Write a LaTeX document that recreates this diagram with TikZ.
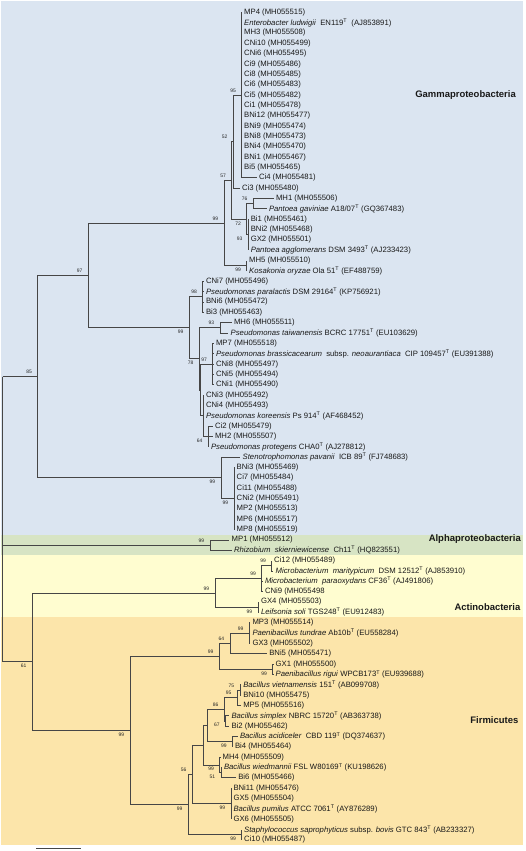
\documentclass[tikz,border=0pt]{standalone}
\usepackage{fontspec}
\setmainfont{Liberation Sans}
\usepackage{tikz}

\definecolor{gammabg}{RGB}{219,229,241}
\definecolor{alphabg}{RGB}{215,228,196}
\definecolor{actinobg}{RGB}{255,253,208}
\definecolor{firmibg}{RGB}{252,229,170}
\definecolor{treeline}{RGB}{70,70,70}

% y position of row r (leaves are rows 1..81)
\pgfmathdeclarefunction{rowy}{1}{\pgfmathparse{12.3+(#1-1)*10.345}}

\begin{document}
\begin{tikzpicture}[x=1bp,y=-1bp,
    branch/.style={draw=treeline,line width=0.75bp},
    leaf/.style={anchor=west,inner xsep=2.3bp,inner ysep=0pt,text=black!90,font=\fontsize{7.75}{9}\selectfont},
    bsup/.style={anchor=south east,inner sep=0.6bp,xshift=-5bp,yshift=2bp,text=black!85,font=\fontsize{5}{5}\selectfont},
    bsdn/.style={anchor=north east,inner sep=0.6bp,xshift=-5bp,yshift=-1.6bp,text=black!85,font=\fontsize{5}{5}\selectfont},
    grouplabel/.style={anchor=east,inner sep=0pt,text=black!90,font=\fontsize{9.5}{11}\selectfont\bfseries}]
    \useasboundingbox (0,0) rectangle (526,851);
    % coloured bands
    \fill[gammabg] (1,1) rectangle (523,534.5);
    \fill[alphabg] (1,534.5) rectangle (523,555);
    \fill[actinobg] (1,555) rectangle (523,617);
    \fill[firmibg] (1,617) rectangle (523,845);
    % internal nodes: name/x/row
    \foreach \nd/\nx/\nr in {root/2.7/36.21875, n85/37.7/36.21875, n97/88.3/26.4375,
        nE/224/21.375, n57/231.7/17.25, n52/233.3/13.5, n95/241.7/9, n72/246.7/21,
        n76/253.3/19.5, n93a/248.3/22.5, nKo/246.7/25.5, nP/189.3/31.5, n98/202.7/28.5,
        n78/199.3/34.5, n93b/220/31.5, nQ/200.5/37.5, n97b/212.7/35, nR/203.3/40,
        n64a/208.3/42, nS/221/46, n99c/234/48, nA/210/52.5, n61/32.3/63.7715,
        nAct/215/57.125, nMi/261.7/55.75, n99m/271.7/54.5, nLe/258/58.5,
        nF/130/70.418, nPa/219.3/63.25, n64p/230/62, n99p/249.3/61, n99r/272.7/64.5,
        nBx/188.3/77.586, n56/192.3/74.672, nG/203.3/71.844, nH/207.7/69.9375,
        n86/224.3/68.375, n95b/237.3/67.25, n75/240/66.5, n67/225.5/69.5,
        nAc/232.5/71.5, nM99/219.7/73.75, n51/221/74.5, nPu/231/77.5, nSt/241.7/80.5}
        \coordinate (\nd) at (\nx,{rowy(\nr)});
    % internal branches
    \foreach \up/\dn in {root/n85, root/nA, root/n61, n85/n97, n85/nS, n97/nE, n97/nP,
        nE/n57, nE/nKo, n57/n52, n57/n72, n52/n95, n72/n76, n72/n93a, nP/n98, nP/n78,
        n78/n93b, n78/nQ, nQ/n97b, nQ/nR, nR/n64a, nS/n99c, n61/nAct, n61/nF,
        nAct/nMi, nAct/nLe, nMi/n99m, nF/nPa, nF/nBx, nPa/n64p, nPa/n99r, n64p/n99p,
        nBx/n56, nBx/nSt, n56/nG, n56/nPu, nG/nH, nG/nM99, nH/n86, nH/nAc,
        n86/n95b, n86/n67, n95b/n75, nM99/n51}
        \draw[branch] (\up) |- (\dn);
    % leaves: row/parent/tip x/label
    \foreach \i/\up/\tip/\lab in {
        1/n95/241.7/{MP4 (MH055515)},
        2/n95/241.7/{\textit{Enterobacter ludwigii}\ \ EN119\textsuperscript{T}\ \ (AJ853891)},
        3/n95/241.7/{MH3 (MH055508)},
        4/n95/241.7/{CNi10 (MH055499)},
        5/n95/241.7/{CNi6 (MH055495)},
        6/n95/241.7/{Ci9 (MH055486)},
        7/n95/241.7/{Ci8 (MH055485)},
        8/n95/241.7/{Ci6 (MH055483)},
        9/n95/241.7/{Ci5 (MH055482)},
        10/n95/241.7/{Ci1 (MH055478)},
        11/n95/241.7/{BNi12 (MH055477)},
        12/n95/241.7/{BNi9 (MH055474)},
        13/n95/241.7/{BNi8 (MH055473)},
        14/n95/241.7/{BNi4 (MH055470)},
        15/n95/241.7/{BNi1 (MH055467)},
        16/n95/241.7/{Bi5 (MH055465)},
        17/n95/256.5/{Ci4 (MH055481)},
        18/n52/239.5/{Ci3 (MH055480)},
        19/n76/273.5/{MH1 (MH055506)},
        20/n76/266.5/{\textit{Pantoea gaviniae} A18/07\textsuperscript{T} (GQ367483)},
        21/n93a/248.3/{Bi1 (MH055461)},
        22/n93a/248.3/{BNi2 (MH055468)},
        23/n93a/248.3/{GX2 (MH055501)},
        24/n93a/248.3/{\textit{Pantoea agglomerans} DSM 3493\textsuperscript{T} (AJ233423)},
        25/nKo/246.7/{MH5 (MH055510)},
        26/nKo/246.7/{\textit{Kosakonia oryzae} Ola 51\textsuperscript{T} (EF488759)},
        27/n98/203.5/{CNi7 (MH055496)},
        28/n98/203.5/{\textit{Pseudomonas paralactis} DSM 29164\textsuperscript{T} (KP756921)},
        29/n98/203.5/{BNi6 (MH055472)},
        30/n98/203.5/{Bi3 (MH055463)},
        31/n93b/231.5/{MH6 (MH055511)},
        32/n93b/228.2/{\textit{Pseudomonas taiwanensis} BCRC 17751\textsuperscript{T} (EU103629)},
        33/n97b/213.5/{MP7 (MH055518)},
        34/n97b/213.5/{\textit{Pseudomonas brassicacearum}\ \ subsp. \textit{neoaurantiaca}\ \ CIP 109457\textsuperscript{T} (EU391388)},
        35/n97b/213.5/{CNi8 (MH055497)},
        36/n97b/213.5/{CNi5 (MH055494)},
        37/n97b/213.5/{CNi1 (MH055490)},
        38/nR/203.5/{CNi3 (MH055492)},
        39/nR/203.5/{CNi4 (MH055493)},
        40/nR/203.5/{\textit{Pseudomonas koreensis} Ps 914\textsuperscript{T} (AF468452)},
        41/n64a/212.5/{Ci2 (MH055479)},
        42/n64a/212.5/{MH2 (MH055507)},
        43/n64a/208.5/{\textit{Pseudomonas protegens} CHA0\textsuperscript{T} (AJ278812)},
        44/nS/240.2/{\textit{Stenotrophomonas pavanii}\ \ ICB 89\textsuperscript{T} (FJ748683)},
        45/n99c/234.2/{BNi3 (MH055469)},
        46/n99c/234.2/{Ci7 (MH055484)},
        47/n99c/234.2/{Ci11 (MH055488)},
        48/n99c/234.2/{CNi2 (MH055491)},
        49/n99c/234.2/{MP2 (MH055513)},
        50/n99c/234.2/{MP6 (MH055517)},
        51/n99c/234.2/{MP8 (MH055519)},
        52/nA/229.2/{MP1 (MH055512)},
        53/nA/231.5/{\textit{Rhizobium\ \ skierniewicense}\ \ Ch11\textsuperscript{T} (HQ823551)},
        54/n99m/271.7/{Ci12 (MH055489)},
        55/n99m/273.2/{\textit{Microbacterium\ \ maritypicum}\ \ DSM 12512\textsuperscript{T} (AJ853910)},
        56/nMi/262.5/{\textit{Microbacterium\ \ paraoxydans} CF36\textsuperscript{T} (AJ491806)},
        57/nMi/262.5/{CNi9 (MH055498},
        58/nLe/258.5/{GX4 (MH055503)},
        59/nLe/258.5/{\textit{Leifsonia soli} TGS248\textsuperscript{T} (EU912483)},
        60/n99p/250/{MP3 (MH055514)},
        61/n99p/250/{\textit{Paenibacillus tundrae} Ab10b\textsuperscript{T} (EU558284)},
        62/n99p/250/{GX3 (MH055502)},
        63/n64p/266.8/{BNi5 (MH055471)},
        64/n99r/273.2/{GX1 (MH055500)},
        65/n99r/273.2/{\textit{Paenibacillus rigui} WPCB173\textsuperscript{T} (EU939688)},
        66/n75/240.8/{\textit{Bacillus vietnamensis} 151\textsuperscript{T} (AB099708)},
        67/n75/240.8/{BNi10 (MH055475)},
        68/n95b/240.8/{MP5 (MH055516)},
        69/n67/229/{\textit{Bacillus simplex} NBRC 15720\textsuperscript{T} (AB363738)},
        70/n67/229/{Bi2 (MH055462)},
        71/nAc/237.5/{\textit{Bacillus acidiceler}\ \ CBD 119\textsuperscript{T} (DQ374637)},
        72/nAc/232.5/{Bi4 (MH055464)},
        73/nM99/220.2/{MH4 (MH055509)},
        74/n51/221.5/{\textit{Bacillus wiedmannii} FSL W80169\textsuperscript{T} (KU198626)},
        75/n51/235.8/{Bi6 (MH055466)},
        76/nPu/231/{BNi11 (MH055476)},
        77/nPu/231/{GX5 (MH055504)},
        78/nPu/231/{\textit{Bacillus pumilus} ATCC 7061\textsuperscript{T} (AY876289)},
        79/nPu/231/{GX6 (MH055505)},
        80/nSt/241.7/{\textit{Staphylococcus saprophyticus} subsp. \textit{bovis} GTC 843\textsuperscript{T} (AB233327)},
        81/nSt/241.7/{Ci10 (MH055487)}}
    {
        \node[leaf] (l\i) at (\tip,{rowy(\i)}) {\lab};
        \draw[branch] (\up) |- (l\i.west);
    }
    % bootstrap values
    \foreach \nd/\pos/\val in {n95/bsup/95, n52/bsup/52, n57/bsup/57, nE/bsup/99,
        n76/bsup/76, n72/bsdn/72, n93a/bsdn/93, nKo/bsdn/99, n97/bsup/97, n85/bsup/85,
        n98/bsup/98, nP/bsdn/99, n93b/bsup/93, n97b/bsup/97, n78/bsdn/78, n64a/bsdn/64,
        nS/bsdn/99, n99c/bsdn/99, nA/bsup/99, nAct/bsup/99, nMi/bsup/99, n99m/bsup/99,
        nLe/bsdn/99, n61/bsdn/61, nF/bsdn/99, nPa/bsup/99, n64p/bsup/64, n99p/bsup/99,
        n99r/bsdn/99, n75/bsup/75, n95b/bsup/95, n86/bsup/86, n67/bsdn/67, nAc/bsdn/99,
        n56/bsup/56, nBx/bsdn/99, nM99/bsdn/99, n51/bsdn/51, nPu/bsdn/99, nSt/bsdn/99}
        \node[\pos] (b\nd) at (\nd) {\val};
    % group names
    \node[grouplabel] (gGamma) at (516,95) {Gammaproteobacteria};
    \node[grouplabel] (gAlpha) at (521,539.5) {Alphaproteobacteria};
    \node[grouplabel] (gActino) at (520.5,607) {Actinobacteria};
    \node[grouplabel] (gFirmi) at (518.5,720) {Firmicutes};
    % scale bar
    \coordinate (sbl) at (36,848);
    \coordinate (sbr) at (81,848);
    \draw[branch] (sbl) -- (sbr);
\end{tikzpicture}
\end{document}
